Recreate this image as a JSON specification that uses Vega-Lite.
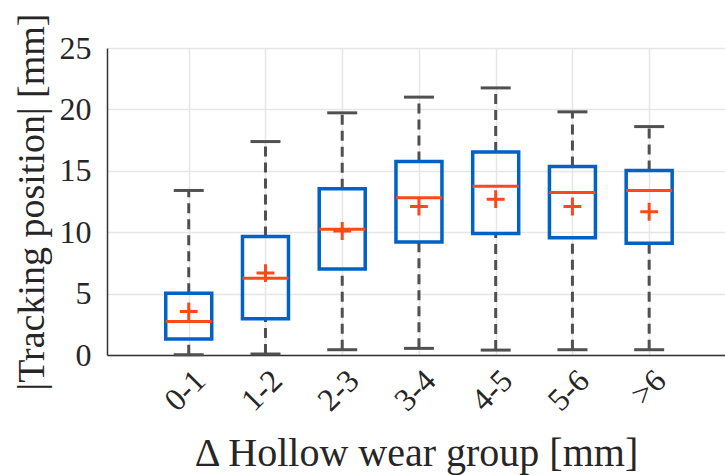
{
  "$schema": "https://vega.github.io/schema/vega-lite/v6.json",
  "autosize": "none",
  "padding": {"left": 107, "top": 48, "right": 0, "bottom": 120},
  "width": 618,
  "height": 307,
  "background": "white",
  "config": {
    "font": "Liberation Serif",
    "view": {"stroke": null},
    "axis": {
      "labelFont": "Liberation Serif",
      "titleFont": "Liberation Serif",
      "labelColor": "#262626",
      "titleColor": "#262626",
      "titleFontWeight": "normal",
      "domainColor": "#333333",
      "domainWidth": 1.5,
      "gridColor": "#e6e6e6",
      "gridWidth": 1.5,
      "ticks": false
    }
  },
  "data": {
    "values": [
      {"g": 1, "label": "0-1", "lo": 0.02, "q1": 1.3, "med": 2.73, "q3": 5.02, "hi": 13.4, "mean": 3.55},
      {"g": 2, "label": "1-2", "lo": 0.08, "q1": 2.95, "med": 6.26, "q3": 9.65, "hi": 17.38, "mean": 6.67},
      {"g": 3, "label": "2-3", "lo": 0.43, "q1": 7.0, "med": 10.25, "q3": 13.53, "hi": 19.72, "mean": 10.1},
      {"g": 4, "label": "3-4", "lo": 0.54, "q1": 9.2, "med": 12.8, "q3": 15.75, "hi": 21.0, "mean": 12.09},
      {"g": 5, "label": "4-5", "lo": 0.4, "q1": 9.9, "med": 13.75, "q3": 16.54, "hi": 21.75, "mean": 12.69},
      {"g": 6, "label": "5-6", "lo": 0.43, "q1": 9.54, "med": 13.23, "q3": 15.35, "hi": 19.8, "mean": 12.09},
      {"g": 7, "label": ">6", "lo": 0.43, "q1": 9.11, "med": 13.39, "q3": 15.02, "hi": 18.6, "mean": 11.66}
    ]
  },
  "encoding": {
    "x": {
      "field": "g",
      "type": "quantitative",
      "scale": {"domain": [0, 7.923], "nice": false, "zero": false},
      "axis": {
        "title": "Δ Hollow wear group [mm]",
        "values": [1, 2, 3, 4, 5, 6, 7],
        "labelExpr": "['', '0-1', '1-2', '2-3', '3-4', '4-5', '5-6', '>6'][datum.value]",
        "labelAngle": -45,
        "labelAlign": "right",
        "labelBaseline": "middle",
        "labelFontSize": 32,
        "labelPadding": 20,
        "labelOffset": 11,
        "titleFontSize": 40,
        "titlePadding": 17,
        "grid": true
      }
    }
  },
  "layer": [
    {
      "mark": {"type": "rule", "color": "#505050", "strokeWidth": 3, "strokeDash": [10, 6]},
      "encoding": {
        "y": {
          "field": "lo",
          "type": "quantitative",
          "scale": {"domain": [0, 25], "nice": false},
          "axis": {
            "title": "|Tracking position| [mm]",
            "values": [0, 5, 10, 15, 20, 25],
            "labelFontSize": 32,
            "labelPadding": 16,
            "titleFontSize": 38,
            "titlePadding": 8,
            "grid": true
          }
        },
        "y2": {"field": "q1"}
      }
    },
    {
      "mark": {"type": "rule", "color": "#505050", "strokeWidth": 3, "strokeDash": [10, 6]},
      "encoding": {
        "y": {"field": "q3", "type": "quantitative"},
        "y2": {"field": "hi"}
      }
    },
    {
      "mark": {"type": "tick", "orient": "horizontal", "color": "#505050", "size": 30, "thickness": 3, "opacity": 1},
      "encoding": {"y": {"field": "lo", "type": "quantitative"}}
    },
    {
      "mark": {"type": "tick", "orient": "horizontal", "color": "#505050", "size": 30, "thickness": 3, "opacity": 1},
      "encoding": {"y": {"field": "hi", "type": "quantitative"}}
    },
    {
      "mark": {"type": "bar", "width": 46, "fill": "white", "fillOpacity": 0, "stroke": "#0061c6", "strokeWidth": 3.5},
      "encoding": {
        "y": {"field": "q1", "type": "quantitative"},
        "y2": {"field": "q3"}
      }
    },
    {
      "mark": {"type": "tick", "orient": "horizontal", "color": "#fa4a1a", "size": 46, "thickness": 3, "opacity": 1},
      "encoding": {"y": {"field": "med", "type": "quantitative"}}
    },
    {
      "mark": {"type": "point", "shape": "M-1,0H1M0,-1V1", "filled": false, "size": 320, "strokeWidth": 3, "color": "#fa4a1a", "opacity": 1},
      "encoding": {"y": {"field": "mean", "type": "quantitative"}}
    }
  ]
}
